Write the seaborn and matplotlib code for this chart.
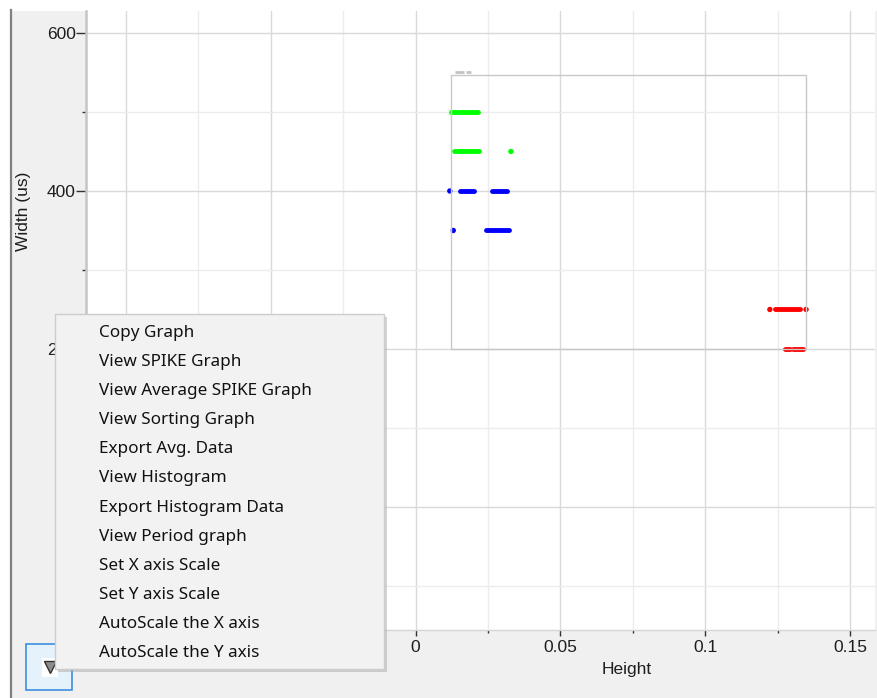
import matplotlib
matplotlib.use("Agg")
import matplotlib.pyplot as plt
from matplotlib.patches import Rectangle
from matplotlib.lines import Line2D
import seaborn as sns
import pandas as pd

# ---------------- data ----------------
# horizontal streaks of spikes: cluster, width (y), start height, end height
seg_cluster = ["gray", "gray", "green", "green", "blue", "blue", "blue", "red", "red", "red"]
seg_y = [550, 550, 500, 450, 400, 400, 350, 250, 200, 200]
seg_x0 = [0.0136, 0.0174, 0.0122, 0.0133, 0.0153, 0.0264, 0.0242, 0.1241, 0.1275, 0.1304]
seg_x1 = [0.0167, 0.0191, 0.0214, 0.0220, 0.0201, 0.0316, 0.0323, 0.1327, 0.1293, 0.1339]

# isolated spikes
pt_cluster = ["green", "blue", "blue", "red", "red"]
pt_y = [450, 400, 350, 250, 250]
pt_x = [0.0329, 0.0118, 0.0130, 0.1223, 0.1348]

# selection box (height range, width range)
box_x = [0.0122, 0.1348]
box_y = [200, 547]

x_major = [-0.1, -0.05, 0, 0.05, 0.1, 0.15]
x_major_labels = ["", "", "0", "0.05", "0.1", "0.15"]   # first two hidden under the menu
x_minor = [-0.075, -0.025, 0.025, 0.075, 0.125]
y_major = [0, 200, 400, 600]
y_major_labels = ["", "200", "400", "600"]             # "0" hidden under the menu
y_minor = [-100, 100, 300, 500]

menu_items = ["Copy Graph", "View SPIKE Graph", "View Average SPIKE Graph",
              "View Sorting Graph", "Export Avg. Data", "View Histogram",
              "Export Histogram Data", "View Period graph", "Set X axis Scale",
              "Set Y axis Scale", "AutoScale the X axis", "AutoScale the Y axis"]

palette = {"gray": "#c4c4c4", "green": "#00ff00", "blue": "#0000ff", "red": "#ff0000"}

# ---------------- figure ----------------
W, H = 877, 698
fig = plt.figure(figsize=(W / 100, H / 100), dpi=100)
fig.patch.set_facecolor("white")

def fx(x):
    return x / W

def fy(y):
    return 1 - y / H

# grey window background
fig.patches.append(Rectangle((fx(11), 0), 1, fy(11), transform=fig.transFigure,
                             facecolor="#f0f0f0", edgecolor="none", zorder=-5))
fig.lines.append(Line2D([fx(11), fx(11)], [0, fy(10)], transform=fig.transFigure,
                        color="#808080", lw=1.6, zorder=-4))

ax = fig.add_axes([fx(86), fy(630), fx(875) - fx(86), fy(11) - fy(630)])
ax.set_zorder(1)
ax.set_facecolor("white")

tick_font = ["Liberation Sans Narrow", "Liberation Sans", "DejaVu Sans"]
fsize = 12.5

# streaks
seg_df = pd.DataFrame({
    "seg": list(range(len(seg_y))) * 2,
    "cluster": seg_cluster * 2,
    "Height": seg_x0 + seg_x1,
    "Width": seg_y * 2,
})
main = seg_df[seg_df["cluster"] != "gray"]
grey = seg_df[seg_df["cluster"] == "gray"]
sns.lineplot(data=main, x="Height", y="Width", hue="cluster", units="seg",
             estimator=None, palette=palette, lw=3.5, legend=False, ax=ax,
             solid_capstyle="round", zorder=3)
sns.lineplot(data=grey, x="Height", y="Width", hue="cluster", units="seg",
             estimator=None, palette=palette, lw=2.0, legend=False, ax=ax,
             solid_capstyle="butt", zorder=3)

pt_df = pd.DataFrame({"cluster": pt_cluster, "Height": pt_x, "Width": pt_y})
sns.scatterplot(data=pt_df, x="Height", y="Width", hue="cluster", palette=palette,
                s=15, linewidth=0, legend=False, ax=ax, zorder=3)

ax.add_patch(Rectangle((box_x[0], box_y[0]), box_x[1] - box_x[0], box_y[1] - box_y[0],
                       fill=False, edgecolor="#c8c8c8", lw=1.0, zorder=4))

ax.set_xlim(-0.1138, 0.1586)
ax.set_ylim(-155.7, 627.8)

ax.set_xticks(x_major)
ax.set_xticklabels(x_major_labels)
ax.set_xticks(x_minor, minor=True)
ax.set_yticks(y_major)
ax.set_yticklabels(y_major_labels)
ax.set_yticks(y_minor, minor=True)

ax.grid(which="major", color="#d9d9d9", lw=1.0, zorder=0)
ax.grid(which="minor", color="#ececec", lw=1.0, zorder=0)
ax.set_axisbelow(True)

ax.tick_params(axis="y", which="major", length=7, width=1, color="#333333",
               pad=0.5, labelsize=fsize, labelcolor="#1e1e1e")
ax.tick_params(axis="y", which="minor", length=3, width=1, color="#333333")
ax.tick_params(axis="x", which="major", length=4, width=1, color="#333333",
               pad=3.2, labelsize=fsize, labelcolor="#1e1e1e")
ax.tick_params(axis="x", which="minor", length=2.5, width=1, color="#333333")
for lab in ax.get_xticklabels() + ax.get_yticklabels():
    lab.set_family(tick_font)

for s in ["top", "right"]:
    ax.spines[s].set_visible(False)
ax.spines["left"].set_color("#c4c4cc")
ax.spines["left"].set_linewidth(1.8)
ax.spines["bottom"].set_color("#d4d4d4")
ax.spines["bottom"].set_linewidth(1.0)

ax.set_xlabel("Height", fontsize=fsize, family=tick_font, color="#1e1e1e")
ax.set_ylabel("Width (us)", fontsize=fsize, family=tick_font, color="#1e1e1e")
ax.xaxis.set_label_coords((627 - 86) / 789, (630 - 662) / 619)
ax.yaxis.set_label_coords((31 - 86) / 789, (630 - 211) / 619)

# ---------------- context menu overlay ----------------
mx0, my0, mx1, my1 = 55, 314, 384, 669
fig.patches.append(Rectangle((fx(mx0 + 3), fy(my1 + 3)), fx(mx1 - mx0), fy(my0) - fy(my1),
                             transform=fig.transFigure, facecolor="#a0a0a0",
                             edgecolor="none", alpha=0.45, zorder=10))
fig.patches.append(Rectangle((fx(mx0), fy(my1)), fx(mx1 - mx0), fy(my0) - fy(my1),
                             transform=fig.transFigure, facecolor="#f2f2f2",
                             edgecolor="#cccccc", lw=1, zorder=11))
item_y0, item_dy = 333, 29.1
for i, item in enumerate(menu_items):
    fig.text(fx(99), fy(item_y0 + i * item_dy), item, ha="left", va="center",
             fontsize=12.3, family=["Noto Sans", "DejaVu Sans"], color="#111111",
             zorder=12)

# small dropdown button
fig.patches.append(Rectangle((fx(26), fy(690)), fx(46), fy(644) - fy(690),
                             transform=fig.transFigure, facecolor="#e5f1fb",
                             edgecolor="#3d8fe0", lw=1.2, zorder=8))
fig.patches.append(Rectangle((fx(42), fy(677)), fx(16), fy(658) - fy(677),
                             transform=fig.transFigure, facecolor="white",
                             edgecolor="none", zorder=8.5))
fig.lines.append(Line2D([fx(50)], [fy(667)], transform=fig.transFigure, marker="v",
                        markersize=9, markerfacecolor="#8c8c8c",
                        markeredgecolor="#333333", markeredgewidth=1.0,
                        linestyle="none", zorder=8.6))

fig.savefig("out.png", dpi=100, facecolor=fig.get_facecolor())
